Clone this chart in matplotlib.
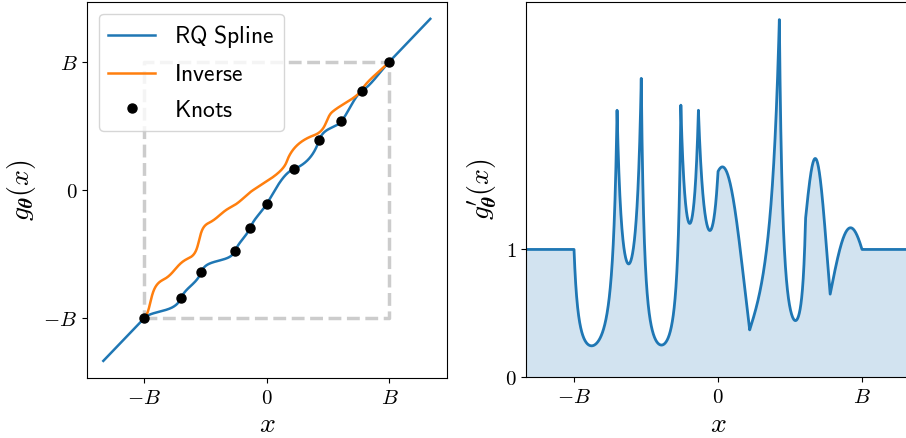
import numpy as np
import matplotlib
matplotlib.use('Agg')
import matplotlib.pyplot as plt

plt.rcParams['mathtext.fontset'] = 'cm'

# --- Spline parameters (in units of the bound B) ---
B = 3.0
knot_x = [-1.0, -0.701, -0.533, -0.258, -0.136, 0.0, 0.220, 0.426, 0.608, 0.779, 1.0]
knot_y = [-1.0, -0.846, -0.638, -0.474, -0.295, -0.109, 0.162, 0.385, 0.534, 0.773, 1.0]
knot_d = [1.0, 2.09, 2.34, 2.13, 2.09, 1.61, 0.37, 2.80, 1.24, 0.65, 1.0]

tick_pos = [-1.0, 0.0, 1.0]
tick_labels = [r'$-B$', r'$0$', r'$B$']


def rq_spline(x, xk, yk, dk):
    """Rational-quadratic spline on [xk[0], xk[-1]], identity outside."""
    y = x.copy()
    dy = np.ones_like(x)
    inside = (x >= xk[0]) & (x <= xk[-1])
    xi_in = x[inside]
    k = np.clip(np.searchsorted(xk, xi_in, side='right') - 1, 0, len(xk) - 2)
    w = xk[k + 1] - xk[k]
    h = yk[k + 1] - yk[k]
    s = h / w
    d0, d1 = dk[k], dk[k + 1]
    t = (xi_in - xk[k]) / w
    tt = t * (1 - t)
    den = s + (d1 + d0 - 2 * s) * tt
    y[inside] = yk[k] + h * (s * t**2 + d0 * tt) / den
    dy[inside] = s**2 * (d1 * t**2 + 2 * s * tt + d0 * (1 - t)**2) / den**2
    return y, dy


xk = np.array(knot_x) * B
yk = np.array(knot_y) * B
dk = np.array(knot_d)

x = np.union1d(np.linspace(-4, 4, 3000), xk)
g, dg = rq_spline(x, xk, yk, dk)

# inverse only drawn inside the box
xb = x[(x >= -B) & (x <= B)]
gb, _ = rq_spline(xb, xk, yk, dk)

fig = plt.figure(figsize=(9.06, 4.38), dpi=100)
ax1 = fig.add_axes([0.0960, 0.137, 0.397, 0.859])
ax2 = fig.add_axes([0.5806, 0.139, 0.4238, 0.857])

# --- Left: spline, inverse, knots ---
ax1.plot([-B, B, B, -B, -B], [-B, -B, B, B, -B], '--', color='gray',
         alpha=0.4, lw=2.5, zorder=1)
ax1.plot(x, g, color='C0', lw=1.8, label=r'$\mathsf{RQ\ Spline}$', zorder=2)
ax1.plot(gb, xb, color='C1', lw=1.8, label=r'$\mathsf{Inverse}$', zorder=3)
ax1.plot(xk, yk, 'o', color='k', ms=6.5, label=r'$\mathsf{Knots}$', zorder=4)

ax1.set_xticks(np.array(tick_pos) * B)
ax1.set_xticklabels(tick_labels)
ax1.set_yticks(np.array(tick_pos) * B)
ax1.set_yticklabels(tick_labels)
ax1.set_xlabel(r'$x$', fontsize=20, labelpad=2)
ax1.set_ylabel(r'$g_{\boldsymbol{\theta}}(x)$', fontsize=20)
ax1.tick_params(labelsize=15)
ax1.legend(loc='upper left', fontsize=17)

# --- Right: derivative ---
ax2.plot(x, dg, color='C0', lw=2)
ax2.fill_between(x, 0, dg, color='C0', alpha=0.2, lw=0)
ax2.set_xlim(-4, 4)
ax2.set_ylim(bottom=0)
ax2.set_xticks(np.array(tick_pos) * B)
ax2.set_xticklabels(tick_labels)
ax2.set_yticks([0, 1])
ax2.set_yticklabels([r'$0$', r'$1$'])
ax2.set_xlabel(r'$x$', fontsize=20, labelpad=2)
ax2.set_ylabel(r'$g^{\prime}_{\boldsymbol{\theta}}(x)$', fontsize=20)
ax2.tick_params(labelsize=15)

fig.savefig('out.png', dpi=100)
